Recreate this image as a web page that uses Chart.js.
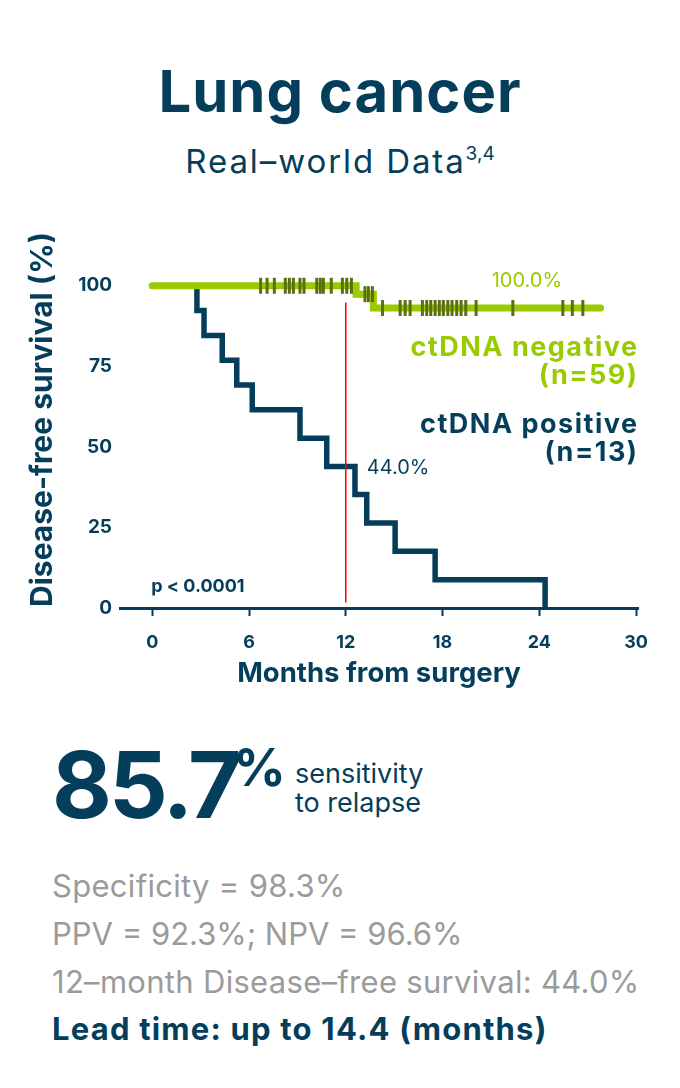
<!DOCTYPE html>
<html>
<head>
<meta charset="utf-8">
<script src="https://cdn.jsdelivr.net/npm/chart.js@4.4.0/dist/chart.umd.min.js"></script>
<style>
  body { margin: 0; width: 680px; height: 1088px; background: #fff; position: relative; overflow: hidden;
         font-family: Inter, "Noto Sans", sans-serif; color: #053e5b; }
  .t { position: absolute; white-space: nowrap; line-height: normal; }
  .center { left: 0; width: 680px; text-align: center; }
  .gray { color: #9b9b9b; letter-spacing: 0.3px; }
  #chartBox { position: absolute; left: 0; top: 220px; width: 680px; height: 490px; }
</style>
</head>
<body>
<div class="t center" style="top:56px;font-size:58px;font-weight:700;letter-spacing:1px;">Lung cancer</div>
<div class="t center" style="top:141px;font-size:33px;letter-spacing:1.9px;">Real–world Data<span style="font-size:19px;letter-spacing:0;position:relative;top:-13px;">3,4</span></div>

<div id="chartBox"><canvas id="km" width="680" height="490"></canvas></div>

<div class="t" style="left:52px;top:729px;font-size:92px;font-weight:700;letter-spacing:-3px;">85.7</div>
<div class="t" style="left:233px;top:736px;font-size:52px;font-weight:700;">%</div>
<div class="t" style="left:295px;top:757px;font-size:27px;">sensitivity</div>
<div class="t" style="left:295px;top:786px;font-size:27px;">to relapse</div>

<div class="t gray" style="left:52px;top:867px;font-size:31px;">Specificity = 98.3%</div>
<div class="t gray" style="left:52px;top:915px;font-size:31px;letter-spacing:0;">PPV = 92.3%; NPV = 96.6%</div>
<div class="t gray" style="left:52px;top:963px;font-size:31px;">12–month Disease–free survival: 44.0%</div>
<div class="t" style="left:52px;top:1010px;font-size:31px;font-weight:700;letter-spacing:1.2px;">Lead time: up to 14.4 (months)</div>

<script>
  // Kaplan-Meier steps (months, % disease-free)
  const posTimes = [0, 2.77, 3.21, 4.34, 5.24, 6.2, 9.16, 10.82, 12.57, 13.3, 15.06, 17.54, 24.36];
  const posSurv = [100, 92.3, 84.6, 76.9, 69.2, 61.5, 52.7, 43.9, 35.2, 26.4, 17.6, 8.8, 0];
  const negTimes = [0, 12.64, 13.71, 27.8];
  const negSurv = [100, 97.4, 93.1, 93.1];
  // censoring marks on the ctDNA negative curve
  const negCensored = [6.72, 7.12, 7.57, 8.25, 8.5, 8.75, 9.16, 9.41, 10.2, 10.42, 10.61, 11.1, 11.79, 12.06, 12.35,
    13.19, 13.4, 13.65, 14.28, 15.37, 15.68, 15.99, 16.75, 17.02, 17.27, 17.54, 17.8, 18.05, 18.33, 18.59, 18.88,
    19.15, 19.44, 20.08, 22.36, 25.46, 26.05, 26.7];
  const xTicks = [0, 6, 12, 18, 24, 30];
  const yTicks = [0, 25, 50, 75, 100];
  const landmark = 12;
  const landmarkRange = [1.7, 94.8];
  const negLabel = '100.0%';
  const posLabel = '44.0%';

  const navy = '#053e5b';
  const green = '#99cc00';
  const olive = '#5c6d12';

  // survival of the negative curve at time t (for placing the censor ticks)
  const negAt = t => {
    let s = negSurv[0];
    negTimes.forEach((nt, i) => { if (nt <= t) s = negSurv[i]; });
    return s;
  };

  const labelsPlugin = {
    id: 'kmLabels',
    afterDraw(chart) {
      const { ctx, chartArea, scales: { x, y } } = chart;
      ctx.save();
      ctx.textBaseline = 'alphabetic';
      ctx.textAlign = 'left';
      ctx.font = '400 20px Inter';
      ctx.fillStyle = green;
      ctx.fillText(negLabel, x.getPixelForValue(21.05), y.getPixelForValue(100) + 1);
      ctx.fillStyle = navy;
      ctx.fillText(posLabel, x.getPixelForValue(13.3), y.getPixelForValue(44) + 7.5);

      ctx.font = '700 18px Inter';
      ctx.fillText('p < 0.0001', x.getPixelForValue(0) - 1, chartArea.bottom - 16);

      ctx.textAlign = 'right';
      ctx.font = '700 27px Inter';
      ctx.letterSpacing = '1.5px';
      const r = chartArea.right + 0.5;
      ctx.fillStyle = green;
      ctx.fillText('ctDNA negative', r, chartArea.top + 125);
      ctx.fillText('(n=59)', r, chartArea.top + 153);
      ctx.fillStyle = navy;
      ctx.fillText('ctDNA positive', r, chartArea.top + 202);
      ctx.fillText('(n=13)', r, chartArea.top + 230);
      ctx.restore();
    }
  };

  new Chart(document.getElementById('km'), {
    type: 'line',
    data: {
      datasets: [
        {
          label: 'censored',
          data: negCensored.map(t => ({ x: t, y: negAt(t) })),
          showLine: false,
          pointStyle: 'line',
          rotation: 90,
          pointRadius: 8,
          pointBorderWidth: 3,
          pointBorderColor: olive,
          pointBackgroundColor: olive
        },
        {
          label: '12 months',
          data: landmarkRange.map(v => ({ x: landmark, y: v })),
          borderColor: '#ff0000',
          borderWidth: 1.5,
          pointRadius: 0
        },
        {
          label: 'ctDNA negative',
          data: negTimes.map((t, i) => ({ x: t, y: negSurv[i] })),
          stepped: 'before',
          borderColor: green,
          borderWidth: 7,
          borderCapStyle: 'round',
          borderJoinStyle: 'miter',
          pointRadius: 0
        },
        {
          label: 'ctDNA positive',
          data: posTimes.map((t, i) => ({ x: t, y: posSurv[i] })),
          stepped: 'before',
          borderColor: navy,
          borderWidth: 5.5,
          borderJoinStyle: 'miter',
          pointRadius: 0
        }
      ]
    },
    options: {
      responsive: false,
      animation: false,
      layout: { padding: { left: 0, right: 42, top: 10, bottom: 0 } },
      plugins: { legend: { display: false }, tooltip: { enabled: false } },
      scales: {
        x: {
          type: 'linear',
          min: -2,
          max: 30.12,
          afterBuildTicks: s => { s.ticks = xTicks.map(v => ({ value: v })); },
          afterFit: s => { s.height = 102; },
          ticks: { color: navy, font: { family: 'Inter', size: 18, weight: '700' }, padding: 16, maxRotation: 0 },
          grid: { drawOnChartArea: false, drawTicks: true, tickLength: 8, tickWidth: 2, tickColor: navy },
          border: { display: true, color: navy, width: 3 },
          title: {
            display: true, text: 'Months from surgery', color: navy,
            font: { family: 'Inter', size: 27.5, weight: '700' }, padding: { top: 0, bottom: 20 }
          }
        },
        y: {
          min: 0,
          max: 117,
          afterBuildTicks: s => { s.ticks = yTicks.map(v => ({ value: v })); },
          afterFit: s => { s.width = 120; s.paddingTop = 0; s.paddingBottom = 0; },
          ticks: { color: navy, font: { family: 'Inter', size: 19, weight: '700' }, padding: 8 },
          grid: { display: false, drawTicks: false },
          border: { display: false },
          title: {
            display: true, text: 'Disease-free survival (%)', color: navy,
            font: { family: 'Inter', size: 30, weight: '700' }, padding: { top: 25, bottom: 0 }
          }
        }
      }
    },
    plugins: [labelsPlugin]
  });
</script>
</body>
</html>
